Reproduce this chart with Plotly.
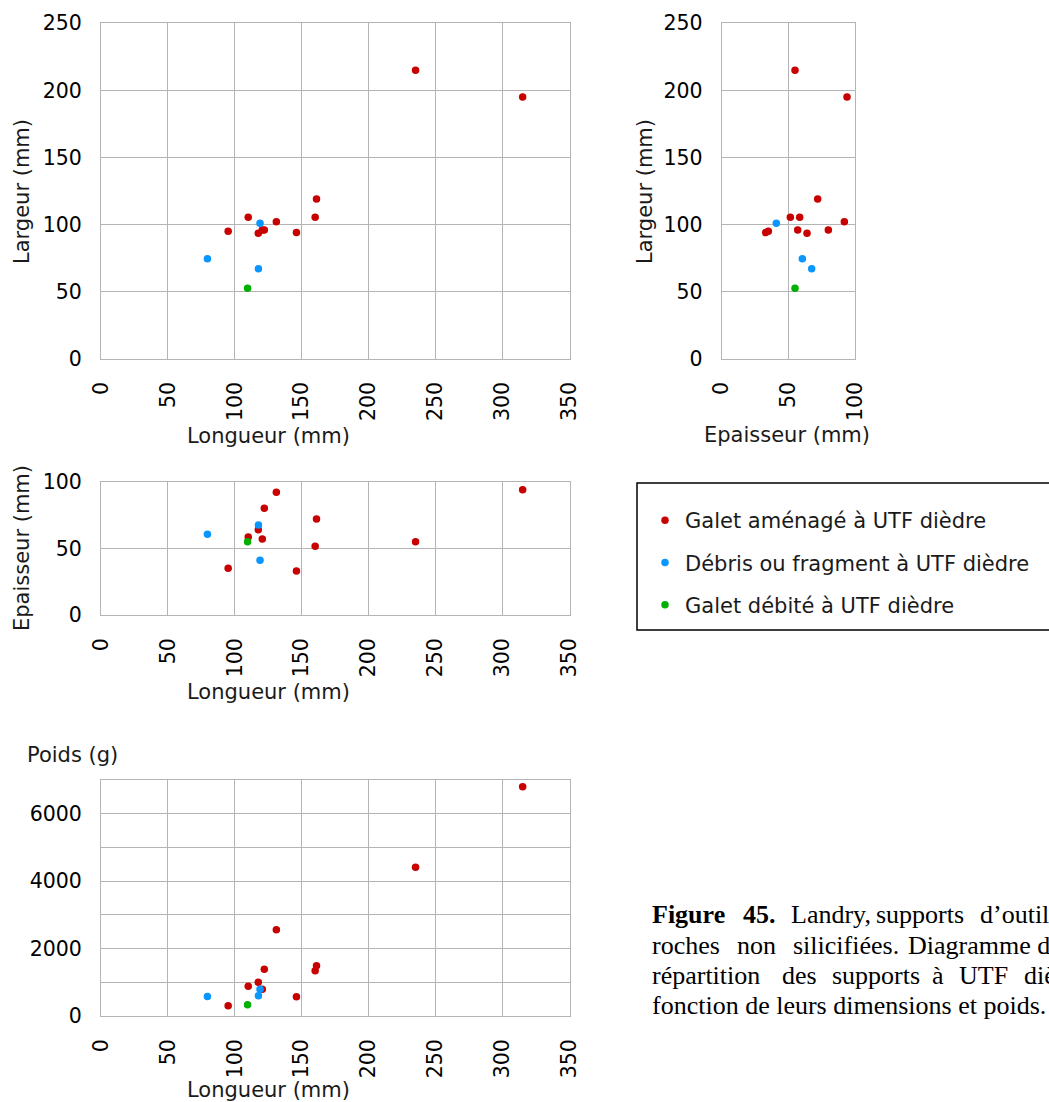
import plotly.graph_objects as go

# Galet aménagé à UTF dièdre
longueur_galet = [315, 235, 161, 160, 131, 110, 95, 146, 122, 117.5, 120.5]
largeur_galet = [195, 215, 119, 105.5, 102, 105.5, 95, 94, 96, 93.5, 96]
epaisseur_galet = [94, 55, 72, 51.5, 92, 58.5, 35, 33, 80, 64, 57]
poids_galet = [6800, 4410, 1490, 1345, 2560, 880, 307, 574, 1385, 1000, 790]

# Débris ou fragment à UTF dièdre
longueur_debris = [79.5, 118.8, 117.6]
largeur_debris = [74.5, 101, 67]
epaisseur_debris = [60.5, 41, 67.5]
poids_debris = [575, 790, 600]

# Galet débité à UTF dièdre
longueur_debite = [109.5]
largeur_debite = [52.5]
epaisseur_debite = [55]
poids_debite = [335]

series = [
    ("Galet aménagé à UTF dièdre", "#c80000",
     longueur_galet, largeur_galet, epaisseur_galet, poids_galet),
    ("Débris ou fragment à UTF dièdre", "#0a96ff",
     longueur_debris, largeur_debris, epaisseur_debris, poids_debris),
    ("Galet débité à UTF dièdre", "#00b000",
     longueur_debite, largeur_debite, epaisseur_debite, poids_debite),
]

W, H = 1049, 1102
FONT = "DejaVu Sans"
GRID = "#b4b4b4"


def px(x0, x1):
    return [x0 / W, x1 / W]


def py(top, bottom):
    return [1 - bottom / H, 1 - top / H]


fig = go.Figure()

for i, (name, color, lon, lar, epa, poi) in enumerate(series):
    pairs = [(lon, lar, "x", "y"), (epa, lar, "x2", "y2"),
             (lon, epa, "x3", "y3"), (lon, poi, "x4", "y4")]
    for j, (xs, ys, xa, ya) in enumerate(pairs):
        fig.add_trace(go.Scatter(
            x=xs, y=ys, xaxis=xa, yaxis=ya, mode="markers", name=name,
            marker=dict(color=color, size=7.5, line=dict(width=0)),
            legendgroup=name, showlegend=(j == 0),
        ))

ax = dict(showgrid=True, gridcolor=GRID, gridwidth=1, showline=True,
          linecolor=GRID, linewidth=1, mirror=True, zeroline=False,
          ticks="", tickfont=dict(family=FONT, size=20.5, color="black"),
          ticklabelstandoff=14, fixedrange=True)
xax = dict(ax, tickangle=-90)

fig.update_layout(
    width=W, height=H,
    margin=dict(l=0, r=0, t=0, b=0, autoexpand=False),
    plot_bgcolor="white", paper_bgcolor="white",
    font=dict(family=FONT, color="black"),
    xaxis=dict(xax, domain=px(101, 569.5), range=[0, 350], dtick=50, anchor="y"),
    yaxis=dict(ax, domain=py(23.3, 358.7), range=[0, 250], dtick=50, anchor="x"),
    xaxis2=dict(xax, domain=px(721.7, 855), range=[0, 100], dtick=50, anchor="y2"),
    yaxis2=dict(ax, domain=py(23.3, 358.7), range=[0, 250], dtick=50, anchor="x2"),
    xaxis3=dict(xax, domain=px(101, 569.5), range=[0, 350], dtick=50, anchor="y3"),
    yaxis3=dict(ax, domain=py(481.7, 615), range=[0, 100], dtick=50, anchor="x3"),
    xaxis4=dict(xax, domain=px(101, 569.5), range=[0, 350], dtick=50, anchor="y4"),
    yaxis4=dict(ax, domain=py(780, 1016), range=[0, 7000], dtick=2000, anchor="x4",
                minor=dict(dtick=1000, showgrid=True, gridcolor=GRID, gridwidth=1)),
    legend=dict(x=645 / W, y=1 - 500 / H, xanchor="left", yanchor="top",
                bgcolor="rgba(0,0,0,0)", borderwidth=0, traceorder="grouped",
                tracegroupgap=12, font=dict(family=FONT, size=21, color="#1a1a1a")),
    showlegend=True,
)

# legend frame
fig.add_shape(type="rect", xref="paper", yref="paper",
              x0=637 / W, x1=1.2, y0=1 - 630 / H, y1=1 - 483 / H,
              line=dict(color="black", width=1.5), fillcolor="rgba(0,0,0,0)")


def label(text, x, y, angle=0):
    fig.add_annotation(text=text, xref="paper", yref="paper", x=x / W, y=1 - y / H,
                       xanchor="center", yanchor="middle", showarrow=False,
                       textangle=angle, font=dict(family=FONT, size=21, color="#1a1a1a"))


label("Largeur (mm)", 22, 192, -90)
label("Longueur (mm)", 268, 436)
label("Largeur (mm)", 645, 192, -90)
label("Epaisseur (mm)", 787, 435)
label("Epaisseur (mm)", 22, 548, -90)
label("Longueur (mm)", 268, 692)
label("Poids (g)", 72, 755)
label("Longueur (mm)", 268, 1090)

# caption, justified line by line (runs past the right edge as in the source page)
caption_lines = [
    (915, [("<b>Figure</b>", 650), ("<b>45.</b>", 741), ("Landry,", 789),
           ("supports", 874), ("d’outils sur", 978)]),
    (945, [("roches", 650), ("non", 735), ("silicifiées.", 791), ("Diagramme de", 906)]),
    (975, [("répartition", 650), ("des", 780), ("supports", 830), ("à", 930),
           ("UTF", 957), ("dièdre en", 1022)]),
    (1005, [("fonction de leurs dimensions et poids.", 650)]),
]
for y, words in caption_lines:
    for w, x in words:
        fig.add_annotation(text=w, xref="paper", yref="paper", x=x / W, y=1 - y / H,
                           xanchor="left", yanchor="middle", showarrow=False,
                           font=dict(family="Liberation Serif", size=26, color="black"))

fig.write_html("out.html", config={"displayModeBar": False},
               post_script="document.body.style.margin='0';")
